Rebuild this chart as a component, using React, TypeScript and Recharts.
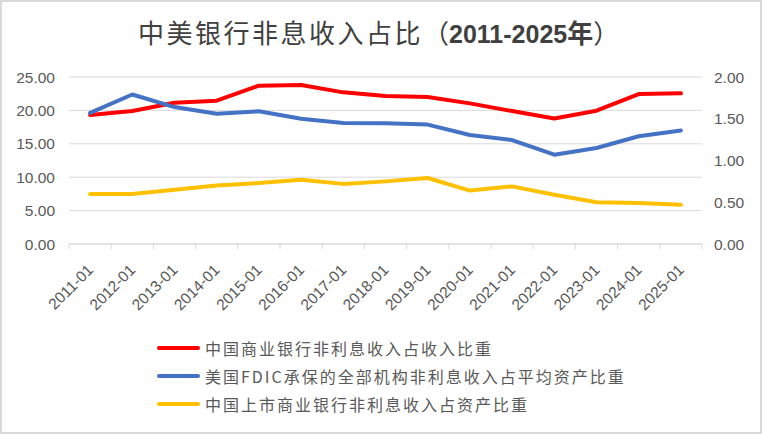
import React from 'react';
import { LineChart, Line, XAxis, YAxis, CartesianGrid, Legend } from 'recharts';

const categories = ['2011-01', '2012-01', '2013-01', '2014-01', '2015-01', '2016-01', '2017-01', '2018-01', '2019-01', '2020-01', '2021-01', '2022-01', '2023-01', '2024-01', '2025-01'];
const chinaNonInterestShareOfIncome = [19.3, 19.9, 21.15, 21.45, 23.7, 23.8, 22.7, 22.15, 22.0, 21.05, 19.9, 18.8, 19.95, 22.45, 22.55];
const usFdicNonInterestToAssets = [1.57, 1.79, 1.64, 1.56, 1.59, 1.5, 1.45, 1.445, 1.43, 1.305, 1.245, 1.07, 1.15, 1.29, 1.36];
const chinaListedNonInterestToAssets = [0.6, 0.6, 0.65, 0.7, 0.73, 0.77, 0.72, 0.75, 0.79, 0.64, 0.69, 0.59, 0.5, 0.49, 0.47];
const leftTicks = [0, 5, 10, 15, 20, 25];
const rightTicks = [0, 0.5, 1, 1.5, 2];
const seriesNames = ['中国商业银行非利息收入占收入比重', '美国FDIC承保的全部机构非利息收入占平均资产比重', '中国上市商业银行非利息收入占资产比重'];
const seriesColors = ['#FF0000', '#4472C4', '#FFC000'];

const data = categories.map((c, i) => ({
  i,
  cat: c,
  a: chinaNonInterestShareOfIncome[i],
  b: usFdicNonInterestToAssets[i],
  c: chinaListedNonInterestToAssets[i],
}));

const xTicks: number[] = [];
for (let k = 0; k <= categories.length * 2; k++) xTicks.push(-0.5 + k * 0.5);

const axisFont = "'Liberation Sans', Arial, sans-serif";
const cjkFont = "'Noto Sans CJK SC', 'Noto Sans', sans-serif";

function XTick(props: any) {
  const { x, y, payload } = props;
  const v = payload.value;
  if (!Number.isInteger(v)) {
    return <line x1={x} x2={x} y1={y} y2={y + 5} stroke="#d9d9d9" strokeWidth={1} />;
  }
  const ax = x + 4;
  const ay = y + 27;
  return (
    <text x={ax} y={ay} transform={`rotate(-45, ${ax}, ${ay})`} textAnchor="end" fill="#595959" fontSize={15.5} fontFamily={axisFont}>
      {categories[v]}
    </text>
  );
}

function LegendContent() {
  return (
    <div style={{ fontFamily: cjkFont }}>
      {seriesNames.map((n, k) => (
        <div key={n} style={{ display: 'flex', alignItems: 'center', height: 28 }}>
          <div style={{ width: 43, height: 4, borderRadius: 2, background: seriesColors[k] }} />
          <span style={{ marginLeft: 5, fontSize: 16, letterSpacing: 2, color: '#595959', whiteSpace: 'nowrap' }}>{n}</span>
        </div>
      ))}
    </div>
  );
}

export default function App() {
  return (
    <div style={{ position: 'fixed', left: 0, top: 0, width: 762, height: 434, background: '#fff' }}>
      <div
        style={{
          position: 'absolute',
          left: 138,
          top: 18,
          fontSize: 26,
          lineHeight: '28px',
          color: '#404040',
          fontFamily: cjkFont,
          whiteSpace: 'nowrap',
        }}
      >
        <span style={{ letterSpacing: 2.5 }}>中美银行非息收入占比</span>（
        <span style={{ fontFamily: axisFont, fontWeight: 'bold', fontSize: 25 }}>2011-2025</span>
        <span style={{ fontWeight: 'bold' }}>年</span>）
      </div>
      <div style={{ position: 'absolute', left: 0, top: 0 }}>
        <LineChart width={762} height={434} data={data} margin={{ top: 77, left: 19, right: 10, bottom: 10 }}>
          <CartesianGrid vertical={false} stroke="#d9d9d9" strokeWidth={1} yAxisId="L" />
          <XAxis
            dataKey="i"
            type="number"
            domain={[-0.5, categories.length - 0.5]}
            ticks={xTicks}
            interval={0}
            tick={<XTick />}
            tickLine={false}
            tickSize={0}
            tickMargin={0}
            axisLine={{ stroke: '#d9d9d9', strokeWidth: 1 }}
            height={180}
          />
          <YAxis
            yAxisId="L"
            orientation="left"
            domain={[0, 25]}
            ticks={leftTicks}
            interval={0}
            width={50}
            axisLine={false}
            tickLine={false}
            tickSize={0}
            tickMargin={14}
            tickFormatter={(v: number) => v.toFixed(2)}
            tick={{ fill: '#595959', fontSize: 15.5, fontFamily: axisFont }}
          />
          <YAxis
            yAxisId="R"
            orientation="right"
            domain={[0, 2]}
            ticks={rightTicks}
            interval={0}
            width={50}
            axisLine={false}
            tickLine={false}
            tickSize={0}
            tickMargin={12}
            tickFormatter={(v: number) => v.toFixed(2)}
            tick={{ fill: '#595959', fontSize: 15.5, fontFamily: axisFont, textAnchor: 'start' }}
          />
          <Line yAxisId="L" dataKey="a" name={seriesNames[0]} stroke={seriesColors[0]} strokeWidth={4} dot={false} strokeLinecap="round" strokeLinejoin="round" isAnimationActive={false} />
          <Line yAxisId="R" dataKey="b" name={seriesNames[1]} stroke={seriesColors[1]} strokeWidth={4} dot={false} strokeLinecap="round" strokeLinejoin="round" isAnimationActive={false} />
          <Line yAxisId="R" dataKey="c" name={seriesNames[2]} stroke={seriesColors[2]} strokeWidth={4} dot={false} strokeLinecap="round" strokeLinejoin="round" isAnimationActive={false} />
          <Legend
            layout="vertical"
            align="center"
            verticalAlign="middle"
            content={<LegendContent />}
            wrapperStyle={{ position: 'absolute', left: 157, top: 334, width: 520, height: 84 }}
          />
        </LineChart>
      </div>
      <div style={{ position: 'absolute', left: 0, top: 0, width: 762, height: 434, boxSizing: 'border-box', border: '2px solid #d9d9d9', pointerEvents: 'none' }} />
    </div>
  );
}
